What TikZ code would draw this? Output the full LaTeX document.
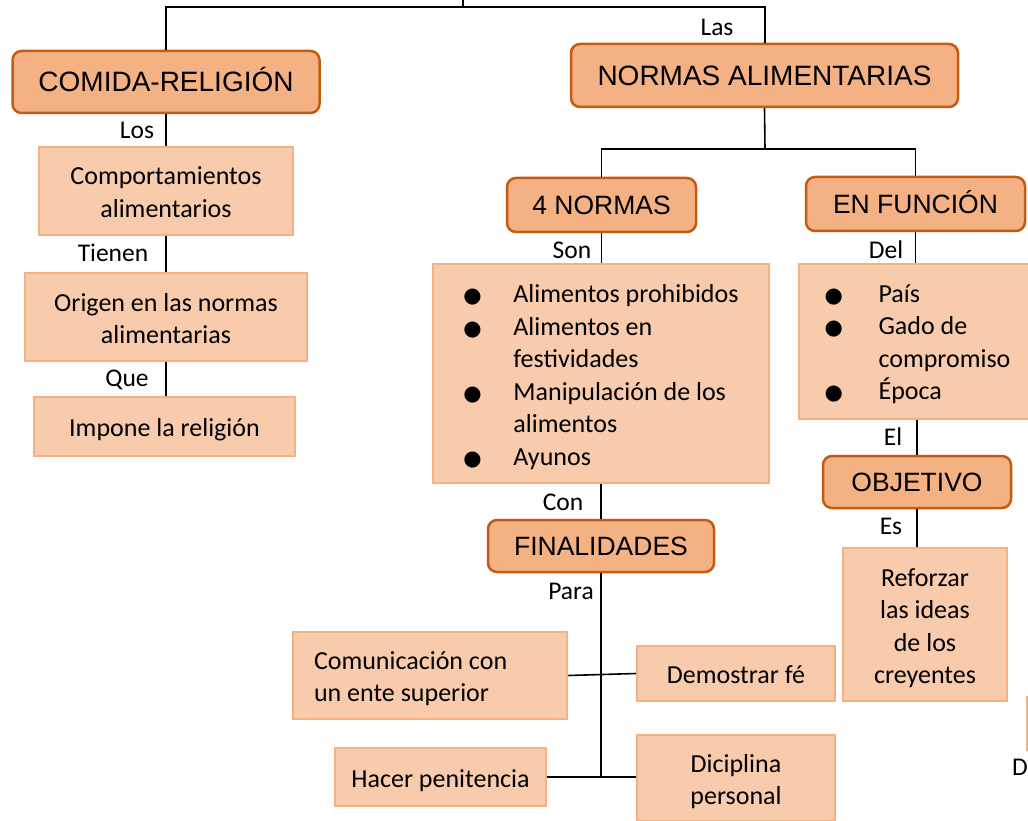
\documentclass[tikz,border=0pt]{standalone}
\usepackage{fontspec}
\setmainfont{Carlito}
\newfontfamily\arialf{Liberation Sans}
\newfontfamily\dejavuf{DejaVu Sans}
\definecolor{naranja}{HTML}{F4B183}
\definecolor{naranjaosc}{HTML}{C55A11}
\definecolor{naranjacl}{HTML}{F8CBAD}
\newcommand{\punto}[1]{\makebox[#1][l]{\dejavuf\fontsize{21}{21}\selectfont ●}}

\begin{document}
\begin{tikzpicture}[x=1pt,y=-1pt,
  titulo/.style={draw=naranjaosc,line width=2.5pt,fill=naranja,rounded corners=9pt,font=\arialf\fontsize{26.5}{32}\selectfont,inner sep=0pt,text height=19.5pt,text depth=0pt},
  cajabase/.style={draw=naranja,line width=2.5pt,fill=naranjacl,font=\fontsize{26}{32.5}\selectfont,inner sep=0pt},
  caja/.style={cajabase,text height=20.5pt,text depth=0pt},
  dos/.style={align=center,text height=53pt,text depth=0pt},
  etiq/.style={font=\fontsize{25.5}{30}\selectfont,inner sep=0pt},
  linea/.style={line width=1.6pt}]
\useasboundingbox (0,0) rectangle (1028,821);
\clip (0,0) rectangle (1028,821);
\node[titulo,font=\arialf\fontsize{28}{32}\selectfont,text height=20pt,minimum width=307pt,minimum height=62pt] (comida) at (166,82) {COMIDA-RELIGIÓN};
\node[titulo,font=\arialf\fontsize{28}{32}\selectfont,text height=20pt,minimum width=387pt,minimum height=63pt] (normas) at (764.5,75.5) {NORMAS ALIMENTARIAS};
\node[caja,dos,minimum width=254pt,minimum height=88pt] (comport) at (166,191) {Comportamientos\\alimentarios};
\node[caja,dos,minimum width=282pt,minimum height=88pt] (origen) at (166,317) {Origen en las normas\\alimentarias};
\node[caja,minimum width=261pt,minimum height=59pt] (impone) at (164.5,426.5) {Impone la religión};
\node[titulo,minimum width=189pt,minimum height=54pt] (cuatro) at (601.5,205) {4 NORMAS};
\node[titulo,minimum width=219pt,minimum height=54pt] (funcion) at (915.5,204) {EN FUNCIÓN};
\node[cajabase,minimum width=336pt,minimum height=219pt] (lista) at (601,373.5) {\begin{tabular}{@{}l@{}l@{}}
  \punto{50pt}\rule{0pt}{30.5pt} & Alimentos prohibidos\\
  \punto{50pt} & Alimentos en\\
  & festividades\\
  \punto{50pt} & Manipulación de los\\
  & alimentos\\
  \punto{50pt} & Ayunos
\end{tabular}};
\node[cajabase,minimum width=237pt,minimum height=155pt] (pais) at (917.5,341.5) {\begin{tabular}{@{}l@{}l@{}}
  \punto{54pt}\rule{0pt}{28.5pt} & País\\
  \punto{54pt} & Gado de\\
  & compromiso\\
  \punto{54pt} & Época
\end{tabular}};
\node[titulo,minimum width=188pt,minimum height=52pt] (objetivo) at (917,482) {OBJETIVO};
\node[caja,dos,text height=118pt,minimum width=164pt,minimum height=153pt] (reforzar) at (925,624.5) {Reforzar\\las ideas\\de los\\creyentes};
\node[titulo,minimum width=226pt,minimum height=52pt] (final) at (601,546) {FINALIDADES};
\node[cajabase,minimum width=274pt,minimum height=87pt] (comun) at (430,675.5) {\makebox[232pt][l]{\begin{tabular}{@{}l@{}}
  \rule{0pt}{29.75pt}Comunicación con\\
  un ente superior
\end{tabular}}};
\node[caja,minimum width=198pt,minimum height=55pt] (demo) at (736,673.5) {Demostrar fé};
\node[caja,minimum width=211pt,minimum height=58pt] (hacer) at (440.5,777) {Hacer penitencia};
\node[caja,dos,minimum width=198pt,minimum height=86pt] (dici) at (736,778) {Diciplina\\personal};
\node[cajabase,minimum width=70pt,minimum height=53pt] (otra) at (1062,723.5) {};
\coordinate (raiz) at (463,0);
\coordinate (cima) at (463,7);
\coordinate (rama) at (765,149);
\draw[line width=2pt] (comida.north) |- (cima) -| (normas.north);
\draw[linea] (raiz) -- (cima);
\draw[linea] (comida) -- (comport);
\draw[linea] (comport) -- (origen);
\draw[linea] (origen.south) -- (origen.south |- impone.north);
\draw[linea] (normas.south) -- (rama);
\draw[linea] (cuatro.north) |- (rama) -| (funcion.north);
\draw[linea] (cuatro.south) -- (cuatro.south |- lista.north);
\draw[linea] (funcion.south) -- (funcion.south |- pais.north);
\draw[linea] (objetivo.north) -- (objetivo.north |- pais.south);
\draw[linea] (objetivo.south) -- (objetivo.south |- reforzar.north);
\draw[linea] (lista.south) -- (lista.south |- final.north);
\draw[linea] (final.south) -- (final.south |- hacer.east);
\draw[linea] (comun.east) -- (demo.west);
\draw[linea] (hacer.east) -- (hacer.east -| dici.west);
\node[etiq] (las) at (717,27) {Las};
\node[etiq] (los) at (137,130) {Los};
\node[etiq] (tienen) at (113,253) {Tienen};
\node[etiq] (que) at (127,380) {Que};
\node[etiq] (son) at (572,250) {Son};
\node[etiq] (del) at (886,250) {Del};
\node[etiq] (con) at (563,502) {Con};
\node[etiq] (el) at (893,437) {El};
\node[etiq] (es) at (891,526) {Es};
\node[etiq] (para) at (571,591) {Para};
\node[etiq,anchor=east] (d) at (1028,767.5) {D};
\end{tikzpicture}
\end{document}
